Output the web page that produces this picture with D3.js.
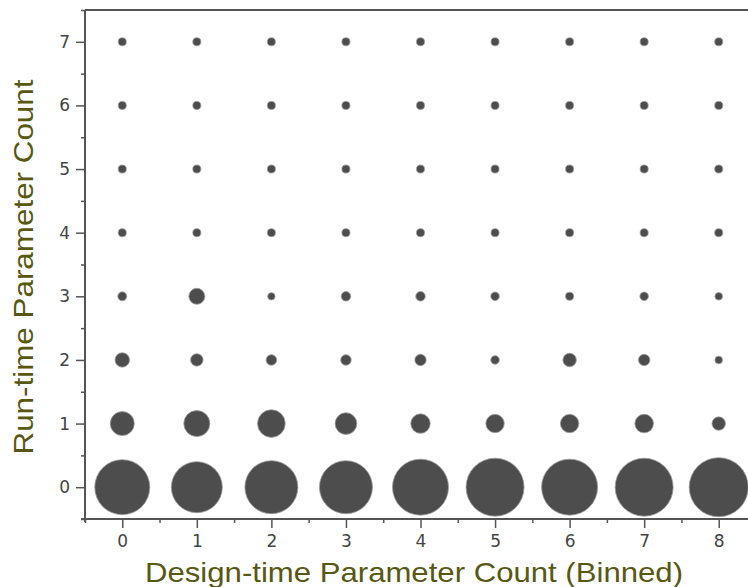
<!DOCTYPE html>
<html>
<head>
<meta charset="utf-8">
<script src="https://cdn.jsdelivr.net/npm/d3@7"></script>
<style>
  body { margin: 0; background: #fff; }
  .tick text { font-family: "DejaVu Sans", sans-serif; font-size: 17px; fill: #444; }
  .tick line { stroke: #555; stroke-width: 1.5; }
  .domain { display: none; }
  .frame { stroke: #555; stroke-width: 2; }
  .title { font-family: "Liberation Sans", Arial, sans-serif; font-size: 28px; fill: #585812; }
</style>
</head>
<body>
<svg id="chart" width="748" height="587"></svg>
<script>
// bins on each axis
const designBins = [0, 1, 2, 3, 4, 5, 6, 7, 8];
const runCounts = [0, 1, 2, 3, 4, 5, 6, 7];

// relative counts per run-time row, one value per design-time bin
const countsRun0 = [840, 722, 780, 780, 871, 934, 871, 934, 967];
const countsRun1 = [160, 188, 212, 130, 105, 94, 94, 96, 50];
const countsRun2 = [58, 43, 31, 31, 36, 20, 50, 36, 16];
const countsRun3 = [22, 71, 15, 25, 25, 20, 18, 20, 16];
const countsRun4 = [18, 18, 18, 18, 18, 18, 18, 18, 18];
const countsRun5 = [18, 18, 18, 18, 18, 18, 18, 18, 18];
const countsRun6 = [18, 18, 18, 18, 18, 18, 18, 18, 18];
const countsRun7 = [18, 18, 18, 18, 18, 18, 18, 18, 18];
const countRows = [countsRun0, countsRun1, countsRun2, countsRun3,
                   countsRun4, countsRun5, countsRun6, countsRun7];

const svg = d3.select('#chart');

let x = d3.scaleLinear().domain([-0.5, 8.5]).range([85, 756]);
let y = d3.scaleLinear().domain([-0.5, 7.5]).range([519, 10]);
let r = d3.scaleSqrt().domain([0, 1000]).range([0, 30]);

let points = [];
runCounts.forEach((rc, i) => {
    designBins.forEach((db, j) => {
        points.push({design: db, run: rc, count: countRows[i][j]});
    });
});

// bubbles
svg.append('g')
    .selectAll('circle')
    .data(points)
    .enter()
    .append('circle')
    .attr('cx', d => x(d.design))
    .attr('cy', d => y(d.run))
    .attr('r', d => r(d.count))
    .attr('fill', '#4d4d4d')
    .attr('stroke', '#9a9a9a')
    .attr('stroke-width', 0.8);

// minor ticks at the half steps
let halfX = designBins.map(d => d + 0.5).concat([-0.5]);
let halfY = runCounts.map(d => d + 0.5).concat([-0.5]);

svg.append('g')
    .attr('transform', `translate(0, ${y.range()[0]})`)
    .call(d3.axisBottom(x).tickValues(halfX).tickSize(4).tickFormat(''));
svg.append('g')
    .attr('transform', `translate(${x.range()[0]}, 0)`)
    .call(d3.axisLeft(y).tickValues(halfY).tickSize(4).tickFormat(''));

// major ticks
svg.append('g')
    .attr('transform', `translate(0, ${y.range()[0]})`)
    .call(d3.axisBottom(x).tickValues(designBins).tickSize(9).tickPadding(7).tickFormat(d3.format('d')));
svg.append('g')
    .attr('transform', `translate(${x.range()[0]}, 0)`)
    .call(d3.axisLeft(y).tickValues(runCounts).tickSize(9).tickPadding(6).tickFormat(d3.format('d')));

// frame: left, bottom and top lines
svg.append('line').attr('class', 'frame')
    .attr('x1', x.range()[0]).attr('x2', x.range()[0])
    .attr('y1', y.range()[1]).attr('y2', y.range()[0] + 3);
svg.append('line').attr('class', 'frame')
    .attr('x1', x.range()[0] - 4).attr('x2', x.range()[1])
    .attr('y1', y.range()[0]).attr('y2', y.range()[0]);
svg.append('line').attr('class', 'frame')
    .attr('x1', x.range()[0]).attr('x2', x.range()[1])
    .attr('y1', y.range()[1]).attr('y2', y.range()[1]);

// axis titles
svg.append('text')
    .attr('class', 'title')
    .attr('x', 414)
    .attr('y', 582)
    .attr('text-anchor', 'middle')
    .attr('textLength', 538)
    .attr('lengthAdjust', 'spacingAndGlyphs')
    .text('Design-time Parameter Count (Binned)');

svg.append('text')
    .attr('class', 'title')
    .attr('transform', 'translate(33, 267) rotate(-90)')
    .attr('text-anchor', 'middle')
    .attr('textLength', 375)
    .attr('lengthAdjust', 'spacingAndGlyphs')
    .text('Run-time Parameter Count');
</script>
</body>
</html>
